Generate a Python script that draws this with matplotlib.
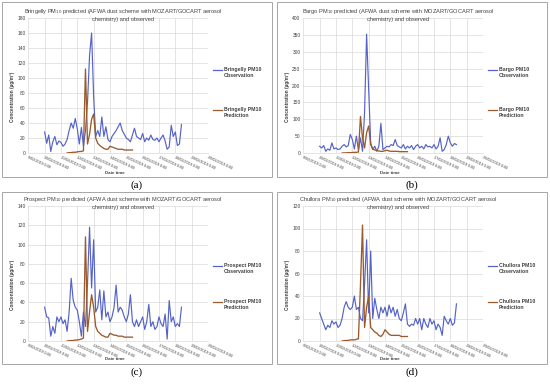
import matplotlib
matplotlib.use("Agg")
import matplotlib.pyplot as plt
import pandas as pd
from matplotlib.lines import Line2D
from matplotlib.patches import Rectangle

plt.rcParams['font.family'] = ['Liberation Sans', 'DejaVu Sans']

# 3-hourly series: observations from 10/02 0:00, predictions from 11/02 9:00
sites = ['Bringelly', 'Bargo', 'Prospect', 'Chullora']
panel_tags = ['(a)', '(b)', '(c)', '(d)']
y_limits = [180, 400, 140, 120]
y_steps = [20, 50, 20, 20]

obs_bringelly = [28, 13, 24, 2, 15, 22, 11, 16, 14, 9, 12, 18, 30, 40, 33, 46, 32, 12,
                 34, 9, 30, 68, 130, 160, 75, 22, 30, 22, 48, 22, 35, 18, 15, 22, 26, 30,
                 35, 40, 30, 25, 20, 18, 15, 24, 33, 22, 20, 18, 26, 15, 20, 17, 24, 18,
                 17, 20, 15, 20, 24, 16, 5, 8, 37, 22, 28, 10, 12, 38]
pred_bringelly = [0, 0.5, 0.5, 1, 1, 1.5, 2, 2, 3, 112, 12, 25, 45, 52, 20, 13, 10,
                  8, 6, 5, 5, 9, 8, 7, 6, 5, 5, 5, 4, 4, 4, 4, 4]

obs_bargo = [20, 15, 22, 5, 12, 8, 30, 12, 15, 10, 12, 20, 25, 18, 22, 55, 40, 12,
             50, 8, 45, 5, 120, 352, 190, 30, 10, 20, 5, 20, 88, 10, 15, 20, 18, 25,
             22, 40, 22, 18, 15, 25, 12, 20, 15, 22, 10, 20, 25, 15, 20, 12, 25, 18,
             20, 15, 25, 12, 20, 45, 5, 10, 25, 50, 30, 20, 28, 25]
pred_bargo = [0, 0.5, 0.5, 1, 1, 1.5, 2, 2, 3, 108, 45, 15, 60, 80, 25, 12, 9,
              7, 6, 5, 5, 7, 8, 6, 5, 5, 5, 5, 4, 4, 4, 4, 4]

obs_prospect = [35, 25, 24, 5, 15, 8, 25, 20, 25, 18, 22, 10, 30, 65, 42, 35, 32, 20,
                5, 30, 15, 60, 118, 55, 105, 30, 35, 53, 22, 52, 25, 30, 20, 25, 35, 58,
                30, 35, 32, 25, 20, 28, 48, 20, 15, 22, 15, 20, 25, 12, 20, 38, 15, 20,
                12, 15, 25, 18, 15, 28, 2, 42, 20, 25, 15, 18, 15, 35]
pred_prospect = [0, 0.3, 0.5, 0.5, 1, 1, 1.5, 2, 3, 108, 10, 30, 48, 35, 15, 10, 8,
                 6, 5, 4, 4, 8, 7, 6, 6, 5, 5, 5, 4, 4, 4, 4, 4]

obs_chullora = [25, 20, 15, 10, 14, 12, 18, 15, 17, 12, 14, 20, 30, 35, 30, 28, 30, 40,
                28, 30, 20, 18, 50, 90, 25, 80, 20, 38, 28, 20, 30, 25, 30, 22, 32, 25,
                30, 22, 28, 20, 18, 25, 33, 15, 13, 15, 14, 20, 15, 20, 10, 20, 15, 12,
                20, 15, 18, 10, 15, 12, 5, 22, 18, 15, 20, 14, 16, 33]
pred_chullora = [0, 0.3, 0.5, 0.5, 1, 1, 1, 1.5, 2, 50, 103, 12, 30, 40, 12, 10, 8,
                 7, 5, 4, 6, 10, 8, 6, 5, 5, 5, 5, 5, 4, 4, 4, 4]

observations = [obs_bringelly, obs_bargo, obs_prospect, obs_chullora]
predictions = [pred_bringelly, pred_bargo, pred_prospect, pred_chullora]

tick_days = pd.date_range('2019-02-09', '2019-02-20', freq='D')
tick_labels = [f'{d.day}/02/2019 0:00' for d in tick_days]

OBS_COLOR = '#5563c9'
PRED_COLOR = '#9a5a2c'
W, H = 550, 384

fig = plt.figure(figsize=(5.5, 3.84), dpi=100)


def fx(x):
    return x / W


def fy(y):
    return 1 - y / H


# panel origin offsets in pixels (x, y)
offsets = [(0, 0), (275, 0), (0, 188), (275, 188)]

for i, site in enumerate(sites):
    ox, oy = offsets[i]
    top = 18 if i < 2 else 206
    bottom = 153 if i < 2 else 341
    ax = fig.add_axes([fx(ox + 28.3), fy(bottom), (208 - 28.3) / W, (bottom - top) / H])

    # panel frame
    fbot = 177 if i < 2 else 364
    ftop = 2 if i < 2 else 192
    fig.patches.append(Rectangle((fx(ox + 1.5), fy(fbot)), 270.5 / W, (fbot - ftop) / H,
                                 transform=fig.transFigure, fill=False,
                                 edgecolor='#a6a6a6', lw=0.7))

    obs = observations[i]
    pred = predictions[i]
    obs_t = pd.date_range('2019-02-10 00:00', periods=len(obs), freq='3h')
    pred_t = pd.date_range('2019-02-11 09:00', periods=len(pred), freq='3h')
    ax.plot(obs_t, obs, color=OBS_COLOR, lw=0.85)
    ax.plot(pred_t, pred, color=PRED_COLOR, lw=0.95)

    ax.set_xlim(tick_days[0], tick_days[-1])
    ax.set_ylim(0, y_limits[i])
    ax.set_yticks(range(0, y_limits[i] + 1, y_steps[i]))
    ax.set_xticks(tick_days)
    ax.set_xticklabels(tick_labels, rotation=-25, ha='left', va='top',
                       rotation_mode='anchor', fontsize=2.7)
    ax.tick_params(axis='y', labelsize=3.5, length=0, pad=2, colors='#404040')
    ax.tick_params(axis='x', length=0, pad=2, colors='#404040')
    ax.grid(True, color='#d9d9d9', lw=0.5)
    ax.set_axisbelow(True)
    for s in ['top', 'right', 'left']:
        ax.spines[s].set_visible(False)
    ax.spines['bottom'].set_color('#d9d9d9')
    ax.spines['bottom'].set_linewidth(0.5)

    fig.text(fx(ox + 123), fy(oy + 11), f'{site} PM$_{{10}}$ predicted (AFWA dust scheme with MOZART/GOCART aerosol',
             ha='center', va='center', fontsize=4.1, color='#404040')
    fig.text(fx(ox + 123), fy(oy + 19.5), 'chemistry) and observed',
             ha='center', va='center', fontsize=4.1, color='#404040')

    fig.text(fx(ox + 13), (fy(bottom) + fy(top)) / 2 - 0.03, 'Concentration (µg/m³)',
             rotation=90, ha='center', va='center', fontsize=3.4,
             fontweight='bold', color='#404040')
    fig.text(fx(ox + 115), fy(fbot - 4.5), 'Date time', ha='center', va='center',
             fontsize=3.2, fontweight='bold', color='#404040')

    # legend
    ly1 = oy + (70 if i < 2 else 78)
    ly2 = oy + (110 if i < 2 else 114)
    for ly, col, word in [(ly1, OBS_COLOR, 'Observation'), (ly2, PRED_COLOR, 'Prediction')]:
        fig.add_artist(Line2D([fx(ox + 213), fx(ox + 222)], [fy(ly), fy(ly)],
                              transform=fig.transFigure, color=col, lw=0.9))
        fig.text(fx(ox + 224), fy(ly - 3), f'{site} PM10\n{word}', ha='left', va='top',
                 fontsize=3.7, fontweight='bold', color='#404040', linespacing=1.3)

    fig.text(fx(ox + 137), fy(fbot + 8.5), panel_tags[i], ha='center', va='center',
             fontsize=8, family=['Liberation Serif', 'DejaVu Serif'])

fig.savefig('out.png', dpi=100)
